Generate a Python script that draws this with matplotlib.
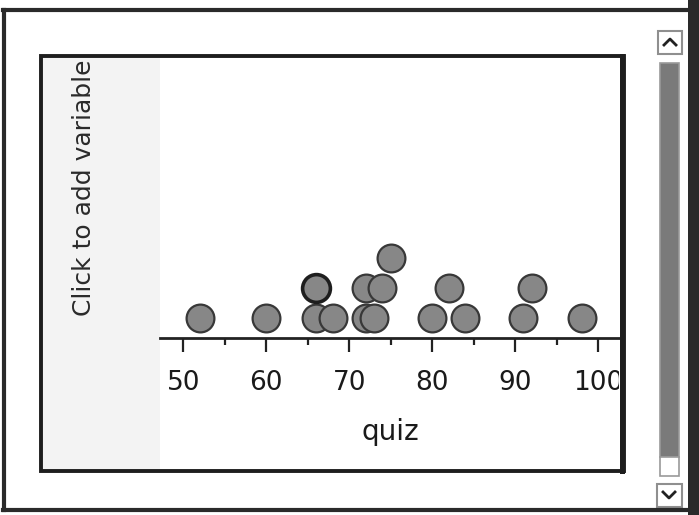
import matplotlib
matplotlib.use("Agg")
import matplotlib.pyplot as plt
from matplotlib.patches import Rectangle

# quiz scores, with how high each dot is stacked
quiz = [52, 60, 66, 66, 68, 72, 72, 73, 74, 75, 80, 82, 84, 91, 92, 98]
stack = [0, 0, 0, 1, 0, 0, 1, 0, 1, 2, 0, 1, 0, 0, 1, 0]
selected = [False, False, False, True, False, False, False, False,
            False, False, False, False, False, False, False, False]
major_ticks = [50, 60, 70, 80, 90, 100]
minor_ticks = [55, 65, 75, 85, 95]

W, H = 699, 515
fig = plt.figure(figsize=(W / 100, H / 100), dpi=100)
fig.patch.set_facecolor("white")


def px_axes(x0, y0, x1, y1, **kw):
    # axes placed by pixel box (top-left origin)
    return fig.add_axes([x0 / W, 1 - y1 / H, (x1 - x0) / W, (y1 - y0) / H], **kw)


# background layer: light strip where the y variable would go
bg = px_axes(0, 0, W, H, zorder=0)
bg.set_xlim(0, W)
bg.set_ylim(H, 0)
bg.axis("off")
bg.add_patch(Rectangle((42, 57), 118, 413, facecolor="#f3f3f3", edgecolor="none"))
bg.text(84, 188, "Click to add variable", rotation=90, ha="center", va="center",
        fontsize=18, color="#2a2a2a")

# the dot plot itself
ax = px_axes(160, 57, 623, 338, zorder=2)
ax.set_facecolor("none")
ax.set_xlim(47.2, 103.0)
ax.set_ylim(-20 / 30, 261 / 30)
for s in ["top", "left", "right"]:
    ax.spines[s].set_visible(False)
ax.spines["bottom"].set_linewidth(2)
ax.spines["bottom"].set_color("#222222")
ax.set_yticks([])
ax.set_xticks(major_ticks)
ax.set_xticks(minor_ticks, minor=True)
ax.tick_params(axis="x", which="major", length=10, width=1.6, color="#222222",
               pad=13, labelsize=19, labelcolor="#1a1a1a")
ax.tick_params(axis="x", which="minor", length=5, width=1.6, color="#222222")

plain_x = [q for q, sel in zip(quiz, selected) if not sel]
plain_y = [s for s, sel in zip(stack, selected) if not sel]
sel_x = [q for q, sel in zip(quiz, selected) if sel]
sel_y = [s for s, sel in zip(stack, selected) if sel]
ax.scatter(plain_x, plain_y, s=400, facecolor="#878787", edgecolor="#383838",
           linewidth=1.6, zorder=3, clip_on=False)
ax.scatter(sel_x, sel_y, s=400, facecolor="#878787", edgecolor="#1e1e1e",
           linewidth=2.6, zorder=3, clip_on=False)

ax.set_xlabel("quiz", fontsize=20, color="#1a1a1a", va="center")
ax.xaxis.set_label_coords((390 - 160) / 463, -(432 - 338) / 281)

# foreground layer: window frame, panel border, scrollbar
fg = px_axes(0, 0, W, H, zorder=3)
fg.set_facecolor("none")
fg.set_xlim(0, W)
fg.set_ylim(H, 0)
fg.axis("off")

# cover the part of the "100" label that runs past the panel edge
fg.add_patch(Rectangle((619, 340), 36, 128, facecolor="white", edgecolor="none"))

# inner panel border
fg.add_patch(Rectangle((40.5, 55.5), 583, 415, facecolor="none",
                       edgecolor="#1e1e1e", linewidth=2.8))
fg.plot([622, 622], [56, 471], color="#1e1e1e", linewidth=3.6)

# outer window frame
fg.plot([4, 4], [10, 510], color="#2a2a2a", linewidth=3)
fg.plot([3, 690], [10, 10], color="#2a2a2a", linewidth=3)
fg.plot([3, 690], [510, 510], color="#2a2a2a", linewidth=3)
fg.add_patch(Rectangle((688, 0), 11, H, facecolor="#2a2a2a", edgecolor="none"))

# scrollbar
fg.add_patch(Rectangle((658, 31), 24, 23, facecolor="white", edgecolor="#8f8f8f",
                       linewidth=1.5))
fg.plot([664, 670, 676], [45, 39, 45], color="#222222", linewidth=2)
fg.add_patch(Rectangle((660, 63), 19, 394, facecolor="#7a7a7a", edgecolor="#999999",
                       linewidth=1.2))
fg.add_patch(Rectangle((660, 457), 19, 19, facecolor="white", edgecolor="#999999",
                       linewidth=1.2))
fg.add_patch(Rectangle((657, 484), 25, 23, facecolor="white", edgecolor="#8f8f8f",
                       linewidth=1.5))
fg.plot([663, 669, 675], [492, 498, 492], color="#222222", linewidth=2)

fig.savefig("out.png", dpi=100)
